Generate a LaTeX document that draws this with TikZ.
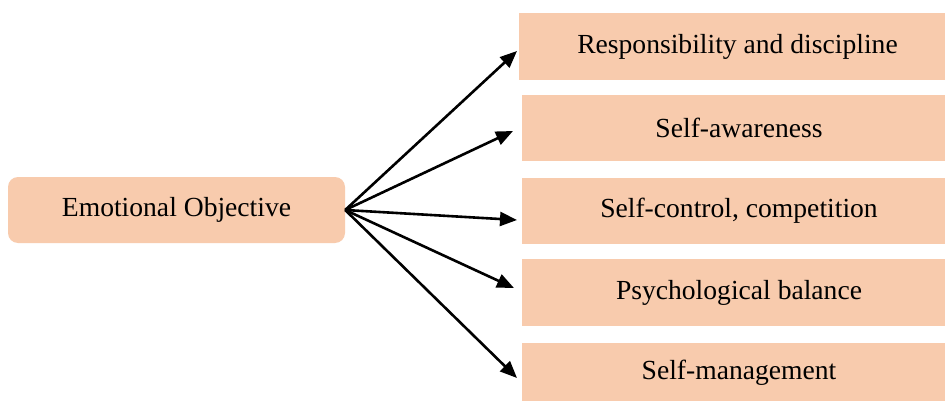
\documentclass[tikz,border=0pt]{standalone}
\usepackage{fontspec}
\setmainfont{Liberation Serif}
\usetikzlibrary{arrows.meta}
\definecolor{peach}{HTML}{F8CBAD}
\begin{document}
\begin{tikzpicture}[x=1pt,y=-1pt,
  box/.style={fill=peach, draw=none, inner sep=0pt, font=\fontsize{27.6}{32}\selectfont},
  arr/.style={-{Triangle[length=17pt,width=14pt]}, line width=2.6pt}]
\clip (0,0) rectangle (945,401);
\fill[white] (0,0) rectangle (945,401);

% source box
\node[box, rounded corners=10pt, minimum width=337pt, minimum height=66pt] (em) at (176.5,210) {Emotional Objective};

% target boxes (running past the right edge)
\node[box, minimum width=437pt, minimum height=67pt] (r1) at (737.5,46.5) {Responsibility and discipline};
\node[box, minimum width=434pt, minimum height=66pt] (r2) at (739,128) {Self-awareness};
\node[box, minimum width=434pt, minimum height=66pt] (r3) at (739,211) {Self-control, competition};
\node[box, minimum width=434pt, minimum height=67pt] (r4) at (739,292.5) {Psychological balance};
\node[box, minimum width=434pt, minimum height=60pt] (r5) at (739,373) {Self-management};

% arrow tips
\coordinate (t1) at (517,51);
\coordinate (t2) at (513,131);
\coordinate (t3) at (517,220);
\coordinate (t4) at (514,288);
\coordinate (t5) at (517,378);

\foreach \t in {t1,t2,t3,t4,t5}
  \draw[arr] (em.east) -- (\t);
\end{tikzpicture}
\end{document}
